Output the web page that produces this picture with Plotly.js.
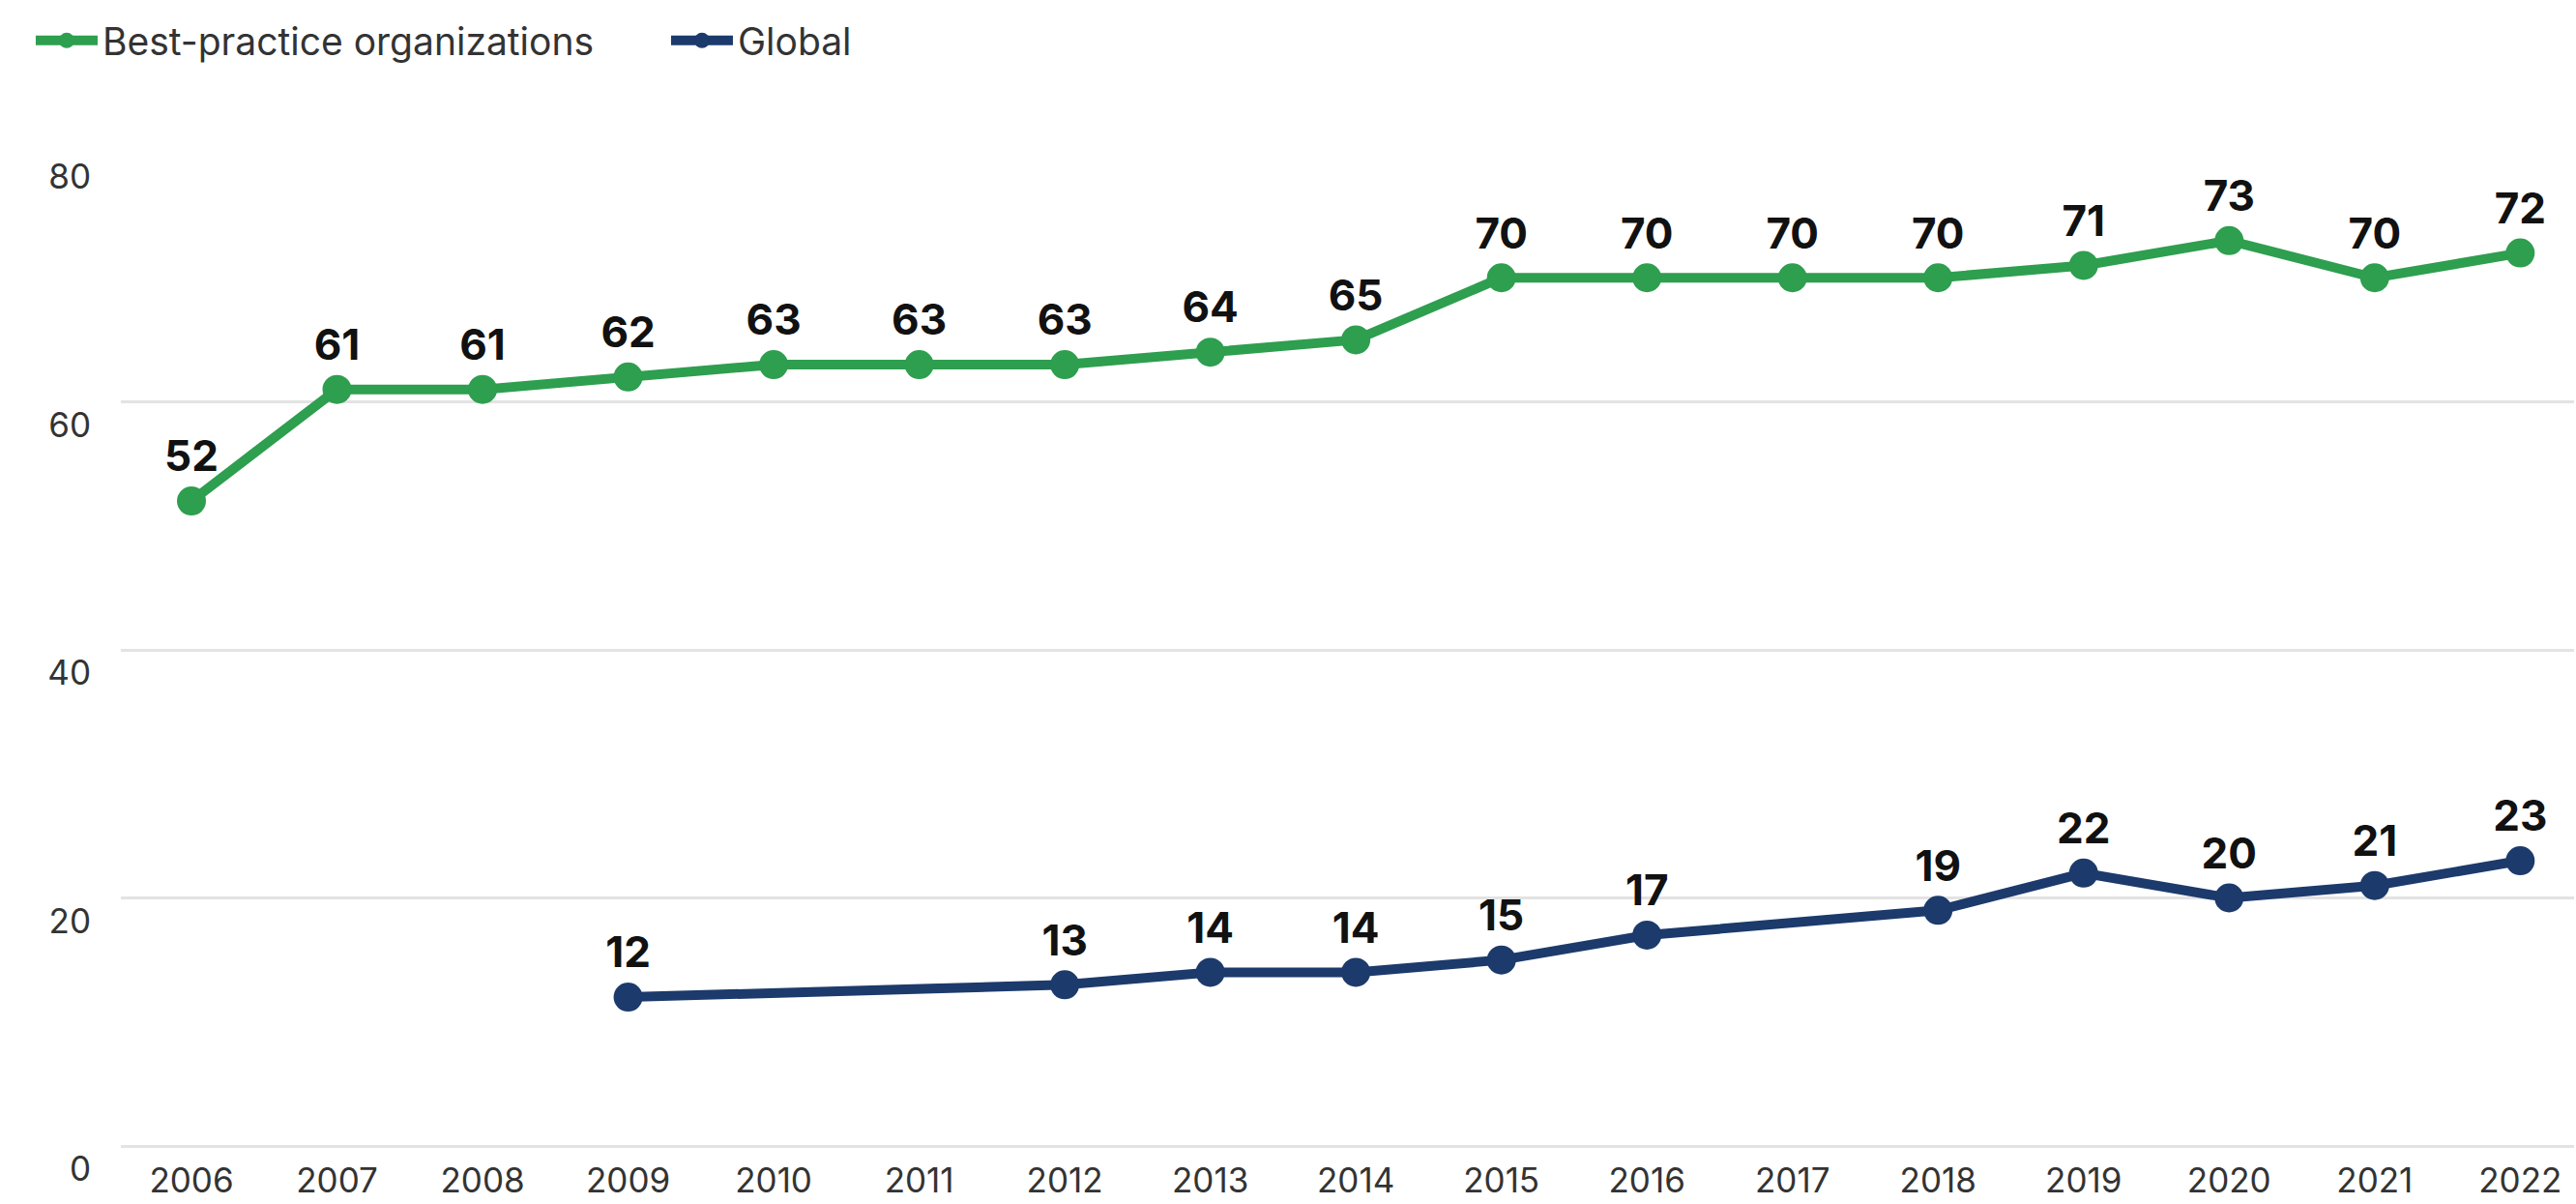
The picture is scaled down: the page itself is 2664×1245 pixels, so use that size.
<!DOCTYPE html>
<html>
<head>
<meta charset="utf-8">
<script src="https://cdn.plot.ly/plotly-3.0.1.min.js"></script>
<style>html,body{margin:0;padding:0;background:#fff;}#chart{width:2664px;height:1245px;}</style>
</head>
<body>
<div id="chart"></div>
<script>
const bestYears = [2006,2007,2008,2009,2010,2011,2012,2013,2014,2015,2016,2017,2018,2019,2020,2021,2022];
const bestValues = [52,61,61,62,63,63,63,64,65,70,70,70,70,71,73,70,72];
const globalYears = [2009,2012,2013,2014,2015,2016,2018,2019,2020,2021,2022];
const globalValues = [12,13,14,14,15,17,19,22,20,21,23];
const yTicks = [0,20,40,60,80];
const xTicks = bestYears;

const GREEN = '#2E9E4F';
const NAVY = '#1C3A6B';

const traces = [
  {
    name: 'Best-practice organizations',
    x: bestYears, y: bestValues,
    type: 'scatter', mode: 'lines+markers+text',
    text: bestValues.map(String),
    textposition: 'top center',
    textfont: {family: 'Inter, Roboto, sans-serif', size: 44, color: '#111', weight: 700},
    line: {color: GREEN, width: 10},
    marker: {color: GREEN, size: 30},
    cliponaxis: false, hoverinfo: 'skip'
  },
  {
    name: 'Global',
    x: globalYears, y: globalValues,
    type: 'scatter', mode: 'lines+markers+text',
    text: globalValues.map(String),
    textposition: 'top center',
    textfont: {family: 'Inter, Roboto, sans-serif', size: 44, color: '#111', weight: 700},
    line: {color: NAVY, width: 10},
    marker: {color: NAVY, size: 30},
    cliponaxis: false, hoverinfo: 'skip'
  }
];

const layout = {
  width: 2664, height: 1245,
  paper_bgcolor: '#fff', plot_bgcolor: '#fff',
  margin: {l: 125, r: 2, t: 159, b: 60, pad: 0},
  font: {family: 'Inter, Roboto, sans-serif', color: '#333'},
  showlegend: true,
  legend: {
    orientation: 'h', xref: 'container', yref: 'container',
    x: 0.012, y: 1 - 10/1245, xanchor: 'left', yanchor: 'top',
    font: {size: 39, color: '#333'}, itemwidth: 64, tracegroupgap: 0,
    entrywidth: 578, entrywidthmode: 'pixels'
  },
  xaxis: {
    range: [2005.515, 2022.37],
    tickmode: 'array', tickvals: xTicks, ticktext: xTicks.map(String),
    showgrid: false, zeroline: false, showline: false, ticks: '',
    tickfont: {size: 35, color: '#333'}, ticklabelstandoff: 12,
    fixedrange: true
  },
  yaxis: {
    range: [0, 80],
    tickmode: 'array', tickvals: yTicks, ticktext: yTicks.map(String),
    showgrid: true, gridcolor: '#e3e3e3', gridwidth: 3,
    zeroline: true, zerolinecolor: '#e3e3e3', zerolinewidth: 3,
    showline: false, ticks: '',
    tickfont: {size: 35, color: '#333'},
    ticklabelshift: 24, ticklabelstandoff: 30,
    fixedrange: true
  }
};

Plotly.newPlot('chart', traces, layout, {displayModeBar: false, staticPlot: true});
</script>
</body>
</html>
